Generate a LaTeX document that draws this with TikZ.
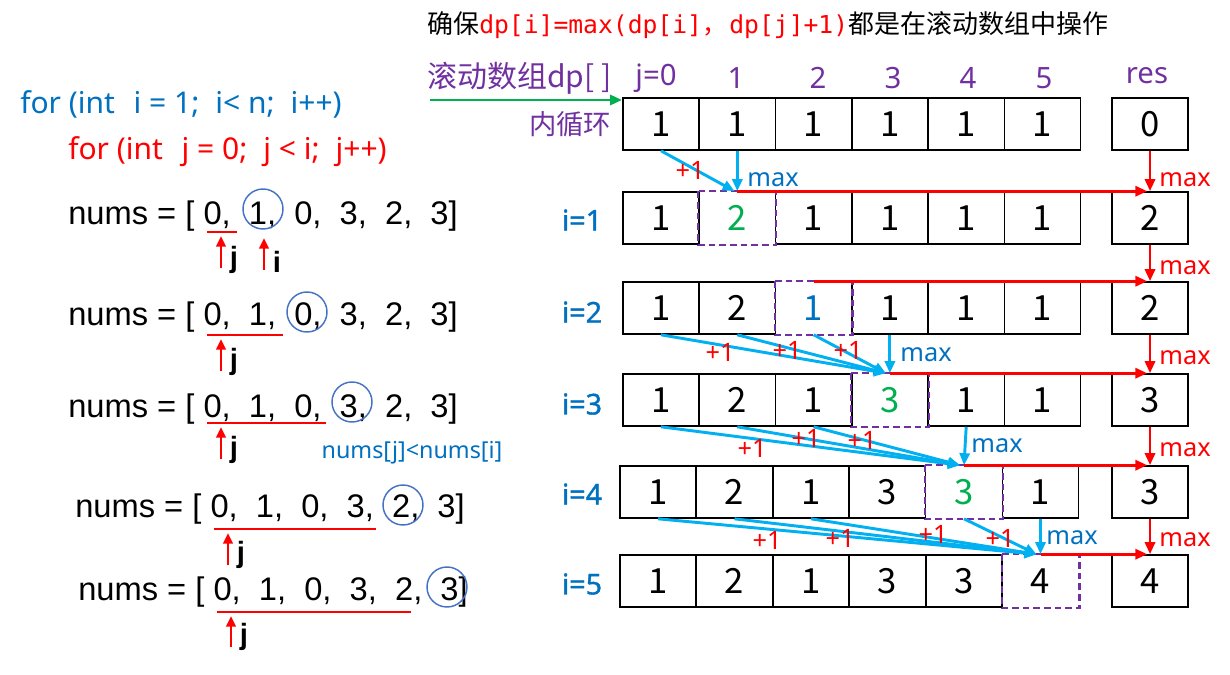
\documentclass[tikz,border=0pt]{standalone}
\usepackage{fontspec}
\setmainfont{Liberation Sans}
\newfontfamily\cjk{Noto Sans CJK SC}
\newfontfamily\nsans{Noto Sans}
\newfontfamily\nsansfb[FakeBold=1.2]{Noto Sans}
\newfontfamily\monof{DejaVu Sans Mono}
\usetikzlibrary{arrows.meta}
\definecolor{cblue}{HTML}{0070C0}
\definecolor{cyanb}{HTML}{00B0F0}
\definecolor{cred}{HTML}{FF0000}
\definecolor{cpurp}{HTML}{7030A0}
\definecolor{cgreen}{HTML}{00B050}
\definecolor{ccirc}{HTML}{4472C4}
\begin{document}
\begin{tikzpicture}[x=0.75pt,y=-0.75pt,
  cell/.style={draw=black,line width=1.2pt,minimum width=57.2pt,minimum height=39pt,inner sep=0pt,font=\cjk\fontsize{26}{26}\selectfont},
  hk/.style={cell,draw=none},
  hg/.style={cell,draw=none,text=cgreen},
  hb/.style={cell,draw=none,text=cblue},
  dashbox/.style={draw=cpurp,line width=1.6pt,dash pattern=on 5pt off 3pt},
  barr/.style={draw=cyanb,line width=2.2pt,-{Triangle[length=9pt,width=7.5pt]}},
  rarr/.style={draw=cred,line width=2.2pt,-{Triangle[length=9pt,width=7.5pt]}},
  uparr/.style={draw=cred,line width=2.2pt,-{Triangle[length=8pt,width=7pt]}},
  uline/.style={draw=cred,line width=2pt},
  circ/.style={draw=ccirc,line width=1.1pt},
  plus/.style={text=cred,font=\nsans\fontsize{19}{19}\selectfont,inner sep=0pt},
  bmax/.style={text=cblue,font=\nsans\fontsize{19}{19}\selectfont,inner sep=0pt},
  rmax/.style={text=cred,font=\nsans\fontsize{19}{19}\selectfont,inner sep=0pt},
  ilab/.style={text=cblue,font=\nsansfb\fontsize{21.5}{22}\selectfont},
  jlab/.style={text=cpurp,font=\nsans\fontsize{22}{22}\selectfont},
  numsl/.style={anchor=base west,inner sep=0pt,font=\fontsize{24.5}{25}\selectfont},
  jl/.style={inner sep=0pt,font=\bfseries\fontsize{22}{22}\selectfont},
  codel/.style={anchor=west,inner sep=0pt,font=\nsans\fontsize{22.5}{23}\selectfont}
]
\useasboundingbox (0,0) rectangle (1230,674);

% title
\node[anchor=west,inner sep=0pt] (title) at (427,25) {\cjk\fontsize{19.5}{20}\selectfont 确保\textcolor{cred}{\monof\fontsize{18.5}{20}\selectfont dp[i]=max(dp[i]{\cjk ，}\hspace{2pt}dp[j]+1)}都是在滚动数组中操作};

% code
\node[codel,text=cblue] (for1) at (20,104) {for (int\hspace{14pt}i = 1;\hspace{12pt}i< n;\hspace{12pt}i++)};
\node[codel,text=cred] (for2) at (68,152) {for (int\hspace{14pt}j = 0;\hspace{12pt}j < i;\hspace{12pt}j++)};

% header labels
\node[anchor=west,inner sep=0pt,text=cpurp,font=\cjk\fontsize{22.5}{23}\selectfont] (gtitle) at (427,78) {滚动数组dp[ ]};
\node[text=cpurp,font=\cjk\fontsize{20.5}{21}\selectfont,inner sep=0pt] (inner) at (570,124) {内循环};
\node[jlab] (h0) at (656,78) {j=0};
\node[jlab] (h1) at (736,78) {1};
\node[jlab] (h2) at (818,78) {2};
\node[jlab] (h3) at (893,78) {3};
\node[jlab] (h4) at (968,78) {4};
\node[jlab] (h5) at (1044,78) {5};
\node[jlab] (hres) at (1147,76) {res};

% rows
\foreach \v/\s [count=\k from 0] in {1/cell,1/cell,1/cell,1/cell,1/cell,1/cell}
  \node[\s] (r0c\k) at ({661+76.3*\k},124) {\v};
\node[cell,minimum width=57pt] (res0) at (1150,124) {0};

\foreach \v/\s [count=\k from 0] in {1/cell,2/hg,1/cell,1/cell,1/cell,1/cell}
  \node[\s] (r1c\k) at ({661+76.3*\k},218) {\v};
\node[cell,minimum width=57pt] (res1) at (1150,218) {2};

\foreach \v/\s [count=\k from 0] in {1/cell,2/cell,1/hb,1/cell,1/cell,1/cell}
  \node[\s] (r2c\k) at ({661+76.3*\k},308) {\v};
\node[cell,minimum width=57pt] (res2) at (1150,308) {2};

\foreach \v/\s [count=\k from 0] in {1/cell,2/cell,1/cell,3/hg,1/cell,1/cell}
  \node[\s] (r3c\k) at ({661+76.3*\k},400) {\v};
\node[cell,minimum width=57pt] (res3) at (1150,400) {3};

\foreach \v/\s [count=\k from 0] in {1/cell,2/cell,1/cell,3/cell,3/hg,1/cell}
  \node[\s] (r4c\k) at ({658+76.5*\k},492) {\v};
\node[cell,minimum width=57pt] (res4) at (1150,492) {3};

\foreach \v/\s [count=\k from 0] in {1/cell,2/cell,1/cell,3/cell,3/cell,4/hk}
  \node[\s] (r5c\k) at ({658+76.5*\k},581) {\v};
\node[cell,minimum width=57pt] (res5) at (1150,581) {4};

% dashed highlights
\draw[dashbox] (r1c1.north west) rectangle (r1c1.south east);
\draw[dashbox] (r2c2.north west) rectangle (r2c2.south east);
\draw[dashbox] (r3c3.north west) rectangle (r3c3.south east);
\draw[dashbox] (r4c4.north west) rectangle (r4c4.south east);
\draw[dashbox] (r5c5.north west) rectangle (r5c5.south east);

% i labels
\node[ilab] (i1) at (582,220) {i=1};
\node[ilab] (i2) at (582,312) {i=2};
\node[ilab] (i3) at (582,404) {i=3};
\node[ilab] (i4) at (582,494) {i=4};
\node[ilab] (i5) at (582,584) {i=5};

% green arrow
\coordinate (ga) at (430,100);
\draw[draw=cgreen,line width=2.2pt,-{Triangle[length=9pt,width=7.5pt]}] (ga) -- (ga -| r0c0.west);

% row 0 -> 1
\draw[barr] (r0c0.south) -- ([xshift=-2pt]r1c1.north);
\draw[barr] (r0c1.south) -- (r1c1.north);
\draw[rarr] (r1c1.north) -- ([xshift=-2pt]res1.north);
\draw[rarr] (res0.south) -- (res1.north);
\node[plus] (p01) at (690,170) {+1};
\node[bmax] (bm1) at (773,180) {max};
\node[rmax] (rm1) at (1185,180) {max};

% row 1 -> 2
\draw[rarr] (r2c2.north) -- ([xshift=-2pt]res2.north);
\draw[rarr] (res1.south) -- (res2.north);
\node[rmax] (rm2) at (1185,268) {max};

% row 2 -> 3
\foreach \c in {0,1,2} \draw[barr] (r2c\c.south) -- ([xshift=-3pt]r3c3.north);
\draw[barr] (r2c3.south) -- (r3c3.north);
\draw[rarr] (r3c3.north) -- ([xshift=-2pt]res3.north);
\draw[rarr] (res2.south) -- (res3.north);
\node[plus] (p20) at (720,352) {+1};
\node[plus] (p21) at (787,350) {+1};
\node[plus] (p22) at (848,350) {+1};
\node[bmax] (bm3) at (926,355) {max};
\node[rmax] (rm3) at (1185,358) {max};

% row 3 -> 4
\foreach \c in {0,1,2} \draw[barr] (r3c\c.south) -- ([xshift=-3pt]r4c4.north);
\draw[barr] (r3c4.south) -- (r4c4.north);
\draw[rarr] (r4c4.north) -- ([xshift=-2pt]res4.north);
\draw[rarr] (res3.south) -- (res4.north);
\node[plus] (p30) at (752,448) {+1};
\node[plus] (p31) at (806,438) {+1};
\node[plus] (p32) at (862,440) {+1};
\node[bmax] (bm4) at (997,446) {max};
\node[rmax] (rm4) at (1185,450) {max};

% row 4 -> 5
\foreach \c in {0,1,2,4} \draw[barr] (r4c\c.south) -- ([xshift=-3pt]r5c5.north);
\draw[barr] (r4c5.south) -- (r5c5.north);
\draw[rarr] (r5c5.north) -- ([xshift=-2pt]res5.north);
\draw[rarr] (res4.south) -- (res5.north);
\node[plus] (p40) at (767,540) {+1};
\node[plus] (p41) at (840,538) {+1};
\node[plus] (p42) at (933,534) {+1};
\node[plus] (p44) at (1000,538) {+1};
\node[bmax] (bm5) at (1072,538) {max};
\node[rmax] (rm5) at (1185,540) {max};

% nums lines
\node[numsl] (n1) at (68,224) {nums = [ 0,\ \ 1,\ \ 0,\ \ 3,\ \ 2,\ \ 3]};
\node[numsl] (n2) at (68,325) {nums = [ 0,\ \ 1,\ \ 0,\ \ 3,\ \ 2,\ \ 3]};
\node[numsl] (n3) at (68,417) {nums = [ 0,\ \ 1,\ \ 0,\ \ 3,\ \ 2,\ \ 3]};
\node[numsl] (n4) at (75,517) {nums = [ 0,\ \ 1,\ \ 0,\ \ 3,\ \ 2,\ \ 3]};
\node[numsl] (n5) at (78,600) {nums = [ 0,\ \ 1,\ \ 0,\ \ 3,\ \ 2,\ \ 3]};

% circles
\node[circ,circle,minimum size=30pt,inner sep=0pt] (c1) at (263,209) {};
\node[circ,circle,minimum size=30pt,inner sep=0pt] (c2) at (307,312) {};
\node[circ,circle,minimum size=30pt,inner sep=0pt] (c3) at (352,402) {};
\node[circ,circle,minimum size=30pt,inner sep=0pt] (c4) at (403,505) {};
\node[circ,circle,minimum size=30pt,inner sep=0pt] (c5) at (447,587) {};

% underlines
\coordinate (u1a) at (207,232); \coordinate (u1b) at (237,232);
\coordinate (u2a) at (207,335); \coordinate (u2b) at (283,335);
\coordinate (u3a) at (207,423); \coordinate (u3b) at (326,423);
\coordinate (u4a) at (214,529); \coordinate (u4b) at (376,529);
\coordinate (u5a) at (217,612); \coordinate (u5b) at (411,612);
\draw[uline] (u1a) -- (u1b);
\draw[uline] (u2a) -- (u2b);
\draw[uline] (u3a) -- (u3b);
\draw[uline] (u4a) -- (u4b);
\draw[uline] (u5a) -- (u5b);

% pointer arrows
\coordinate (a1s) at (221,268); \coordinate (a1e) at (221,236);
\coordinate (b1s) at (264,270); \coordinate (b1e) at (264,238);
\coordinate (a2s) at (221,371); \coordinate (a2e) at (221,339);
\coordinate (a3s) at (221,459); \coordinate (a3e) at (221,427);
\coordinate (a4s) at (228,565); \coordinate (a4e) at (228,533);
\coordinate (a5s) at (231,647); \coordinate (a5e) at (231,616);
\draw[uparr] (a1s) -- (a1e);
\draw[uparr] (b1s) -- (b1e);
\draw[uparr] (a2s) -- (a2e);
\draw[uparr] (a3s) -- (a3e);
\draw[uparr] (a4s) -- (a4e);
\draw[uparr] (a5s) -- (a5e);
\node[jl] (j1) at (234,260) {j};
\node[jl] (i1p) at (277,262) {i};
\node[jl] (j2) at (234,362) {j};
\node[jl] (j3) at (234,450) {j};
\node[jl] (j4) at (241,555) {j};
\node[jl] (j5) at (244,637) {j};

\node[text=cblue,font=\nsans\fontsize{17.5}{18}\selectfont,inner sep=0pt] (cond) at (412,453) {nums[j]<nums[i]};
\end{tikzpicture}
\end{document}
